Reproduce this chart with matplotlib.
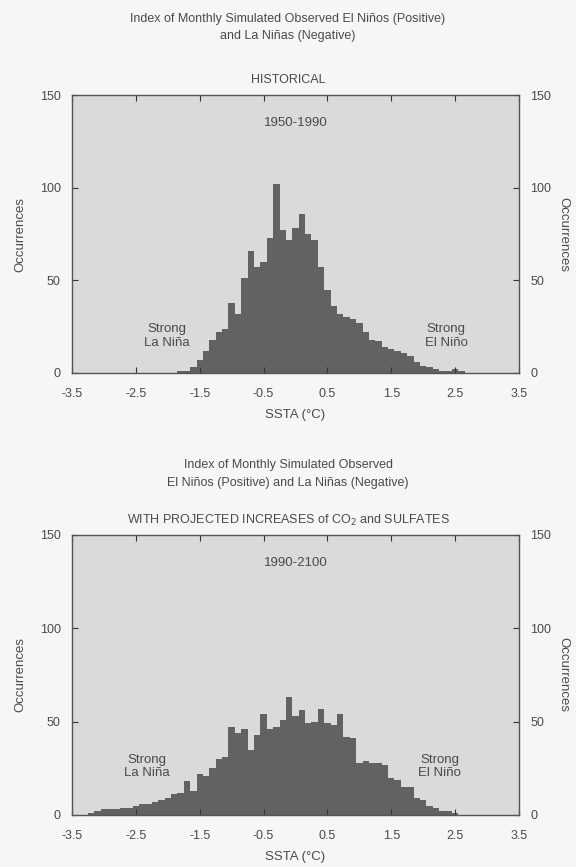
import matplotlib
matplotlib.use("Agg")
import matplotlib.pyplot as plt

plt.rcParams["font.family"] = ["Liberation Sans", "DejaVu Sans"]

# bin centres (deg C) and monthly counts
hist_x = [-1.8, -1.7, -1.6, -1.5, -1.4, -1.3, -1.2, -1.1, -1.0, -0.9,
          -0.8, -0.7, -0.6, -0.5, -0.4, -0.3, -0.2, -0.1, 0.0, 0.1,
          0.2, 0.3, 0.4, 0.5, 0.6, 0.7, 0.8, 0.9, 1.0, 1.1,
          1.2, 1.3, 1.4, 1.5, 1.6, 1.7, 1.8, 1.9, 2.0, 2.1,
          2.2, 2.3, 2.4, 2.5, 2.6]
hist_n = [1, 1, 3, 7, 12, 18, 22, 24, 38, 32,
          51, 66, 57, 60, 73, 102, 77, 72, 78, 86,
          75, 72, 57, 45, 36, 32, 30, 29, 27, 22,
          18, 17, 14, 13, 12, 11, 9, 6, 4, 3,
          2, 1, 1, 2, 1]

proj_x = [-3.2, -3.1, -3.0, -2.9, -2.8, -2.7, -2.6, -2.5, -2.4, -2.3,
          -2.2, -2.1, -2.0, -1.9, -1.8, -1.7, -1.6, -1.5, -1.4, -1.3,
          -1.2, -1.1, -1.0, -0.9, -0.8, -0.7, -0.6, -0.5, -0.4, -0.3,
          -0.2, -0.1, 0.0, 0.1, 0.2, 0.3, 0.4, 0.5, 0.6, 0.7,
          0.8, 0.9, 1.0, 1.1, 1.2, 1.3, 1.4, 1.5, 1.6, 1.7,
          1.8, 1.9, 2.0, 2.1, 2.2, 2.3, 2.4, 2.5]
proj_n = [1, 2, 3, 3, 3, 4, 4, 5, 6, 6,
          7, 8, 9, 11, 12, 18, 13, 22, 21, 25,
          30, 31, 47, 44, 46, 35, 43, 54, 46, 47,
          51, 63, 53, 56, 49, 50, 57, 49, 48, 54,
          42, 41, 28, 29, 28, 28, 27, 20, 19, 15,
          15, 9, 8, 5, 4, 2, 2, 1]

xticks = [-3.5, -2.5, -1.5, -0.5, 0.5, 1.5, 2.5, 3.5]
yticks = [0, 50, 100, 150]

txt = "#4a4a4a"
face = "#dadada"
bar_c = "#626262"
fs = 9.5

fig = plt.figure(figsize=(5.76, 8.67), dpi=100)
fig.patch.set_facecolor("#f6f6f6")


def panel(rect, xs, ns, period, la_pos, el_pos):
    ax = fig.add_axes(rect)
    ax.set_facecolor(face)
    ax.bar(xs, ns, width=0.1, color=bar_c, linewidth=0)
    ax.set_xlim(-3.5, 3.5)
    ax.set_ylim(0, 150)

    # right-hand label lives on a twin axis
    ax2 = ax.twinx()
    ax2.set_ylim(0, 150)
    ax2.set_yticks([])
    for s in ax2.spines.values():
        s.set_visible(False)
    ax2.set_ylabel("Occurrences", fontsize=fs, color=txt, rotation=270,
                   labelpad=36)

    ax.set_xticks(xticks)
    ax.set_xticklabels([str(t) for t in xticks])
    ax.set_yticks(yticks)
    ax.yaxis.set_ticks_position("both")
    ax.xaxis.set_ticks_position("both")
    ax.tick_params(direction="in", length=4, width=0.8, colors="#333333",
                   labelcolor=txt, labelsize=fs - 0.5, pad=8,
                   labelleft=True, labelright=True, labelbottom=True,
                   labeltop=False)
    ax.tick_params(axis="x", pad=11)
    for s in ax.spines.values():
        s.set_color("#555555")
        s.set_linewidth(1.0)
    ax.set_xlabel("SSTA (°C)", fontsize=fs, color=txt, labelpad=6)
    ax.set_ylabel("Occurrences", fontsize=fs, color=txt, labelpad=10)

    ax.text(0.0, 135, period, ha="center", va="center", fontsize=fs, color=txt)
    ax.text(la_pos[0], la_pos[1], "Strong\nLa Niña", ha="center", va="center",
            fontsize=fs, color=txt, linespacing=1.2)
    ax.text(el_pos[0], el_pos[1], "Strong\nEl Niño", ha="center", va="center",
            fontsize=fs, color=txt, linespacing=1.2)
    return ax


top = panel([0.125, 0.5698, 0.776, 0.3206], hist_x, hist_n, "1950-1990",
            (-2.02, 20), (2.36, 20))
bot = panel([0.125, 0.06, 0.776, 0.323], proj_x, proj_n, "1990-2100",
            (-2.33, 26), (2.26, 26))

fig.text(0.5, 1 - 19 / 867, "Index of Monthly Simulated Observed El Niños (Positive)",
         ha="center", va="center", fontsize=fs - 0.5, color=txt)
fig.text(0.5, 1 - 36 / 867, "and La Niñas (Negative)",
         ha="center", va="center", fontsize=fs - 0.5, color=txt)
fig.text(0.5, 1 - 80 / 867, "HISTORICAL",
         ha="center", va="center", fontsize=fs - 0.5, color=txt)

fig.text(0.5, 1 - 465 / 867, "Index of Monthly Simulated Observed",
         ha="center", va="center", fontsize=fs - 0.5, color=txt)
fig.text(0.5, 1 - 483 / 867, "El Niños (Positive) and La Niñas (Negative)",
         ha="center", va="center", fontsize=fs - 0.5, color=txt)
fig.text(0.5, 1 - 520 / 867, "WITH PROJECTED INCREASES of CO$_2$ and SULFATES",
         ha="center", va="center", fontsize=fs - 0.5, color=txt)

fig.savefig("out.png", dpi=100, facecolor=fig.get_facecolor())
